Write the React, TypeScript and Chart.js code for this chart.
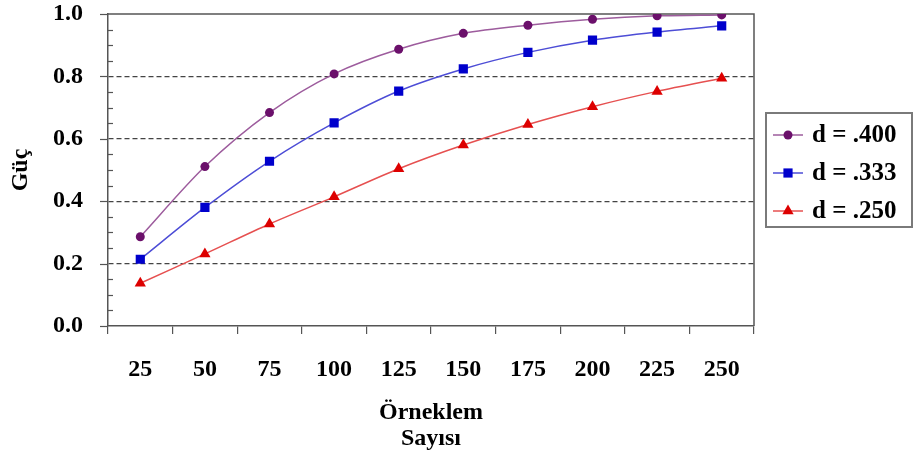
import React, { useEffect, useRef } from 'react';
import { Chart, registerables } from 'chart.js';

Chart.register(...registerables);

const categories = ['25', '50', '75', '100', '125', '150', '175', '200', '225', '250'];
const seriesLabels = ['d = .400', 'd = .333', 'd = .250'];
const d400 = [0.286, 0.511, 0.684, 0.808, 0.887, 0.938, 0.964, 0.983, 0.994, 0.997];
const d333 = [0.214, 0.380, 0.528, 0.651, 0.753, 0.824, 0.877, 0.916, 0.942, 0.962];
const d250 = [0.137, 0.231, 0.327, 0.414, 0.504, 0.580, 0.646, 0.703, 0.752, 0.794];
const yMin = 0;
const yMax = 1;
const yStep = 0.2;
const yMinorStep = 0.05;
const yTitle = 'Güç';
const xTitle = ['Örneklem', 'Sayısı'];

const FONT = '"Liberation Serif", "Times New Roman", serif';
const AXIS_COLOR = '#555555';

function drawMarker(ctx: CanvasRenderingContext2D, style: string, x: number, y: number, r: number, color: string) {
  ctx.save();
  ctx.fillStyle = color;
  ctx.strokeStyle = color;
  ctx.beginPath();
  if (style === 'rect') {
    const s = r * Math.SQRT1_2;
    ctx.rect(x - s, y - s, 2 * s, 2 * s);
  } else if (style === 'triangle') {
    ctx.moveTo(x, y - r);
    ctx.lineTo(x + r * 0.866, y + r * 0.5);
    ctx.lineTo(x - r * 0.866, y + r * 0.5);
    ctx.closePath();
  } else {
    ctx.arc(x, y, r, 0, Math.PI * 2);
  }
  ctx.fill();
  ctx.restore();
}

const framePlugin = {
  id: 'frame',
  beforeDatasetsDraw(chart: any) {
    const { ctx, chartArea } = chart;
    const y = chart.scales.y;
    ctx.save();
    ctx.strokeStyle = AXIS_COLOR;
    ctx.lineWidth = 1.5;
    ctx.beginPath();
    ctx.moveTo(chartArea.left, chartArea.top);
    ctx.lineTo(chartArea.right, chartArea.top);
    ctx.lineTo(chartArea.right, chartArea.bottom);
    ctx.stroke();
    // y ticks (major outside, minor inside)
    ctx.lineWidth = 1.2;
    const n = Math.round((yMax - yMin) / yMinorStep);
    const perMajor = Math.round(yStep / yMinorStep);
    for (let i = 0; i <= n; i++) {
      const v = yMin + i * yMinorStep;
      const py = Math.round(y.getPixelForValue(v)) + 0.5;
      ctx.beginPath();
      if (i % perMajor === 0) {
        ctx.moveTo(chartArea.left - 8, py);
        ctx.lineTo(chartArea.left, py);
      } else {
        ctx.moveTo(chartArea.left, py);
        ctx.lineTo(chartArea.left + 5, py);
      }
      ctx.stroke();
    }
    ctx.restore();
  },
};

const legendPlugin = {
  id: 'boxLegend',
  afterDraw(chart: any) {
    const { ctx } = chart;
    const bx = 766, by = 113, bw = 146, bh = 114;
    ctx.save();
    ctx.strokeStyle = '#7a7a7a';
    ctx.lineWidth = 2;
    ctx.strokeRect(bx, by, bw, bh);
    chart.data.datasets.forEach((ds: any, i: number) => {
      const cy = by + 22 + i * 38;
      ctx.strokeStyle = ds.borderColor;
      ctx.lineWidth = ds.borderWidth;
      ctx.beginPath();
      ctx.moveTo(bx + 7, cy);
      ctx.lineTo(bx + 37, cy);
      ctx.stroke();
      drawMarker(ctx, ds.pointStyle, bx + 22, cy, ds.pointRadius, ds.pointBackgroundColor);
      ctx.fillStyle = '#000';
      ctx.font = `bold 25px ${FONT}`;
      ctx.textBaseline = 'middle';
      ctx.textAlign = 'left';
      ctx.fillText(ds.label, bx + 46, cy + 1);
    });
    ctx.restore();
  },
};

export default function App() {
  const ref = useRef<HTMLCanvasElement | null>(null);
  useEffect(() => {
    document.body.style.margin = '0';
    const canvas = ref.current;
    if (!canvas) return;
    const chart = new Chart(canvas, {
      type: 'line',
      data: {
        labels: categories,
        datasets: [
          {
            label: seriesLabels[0],
            data: d400,
            borderColor: '#9d5c9d',
            borderWidth: 1.5,
            pointStyle: 'circle',
            pointRadius: 4.5,
            pointBackgroundColor: '#6b106b',
            pointBorderColor: '#6b106b',
            pointBorderWidth: 0,
            tension: 0.3,
          },
          {
            label: seriesLabels[1],
            data: d333,
            borderColor: '#4d4dd6',
            borderWidth: 1.5,
            pointStyle: 'rect',
            pointRadius: 6.5,
            pointBackgroundColor: '#0000cc',
            pointBorderColor: '#0000cc',
            pointBorderWidth: 0,
            tension: 0.3,
          },
          {
            label: seriesLabels[2],
            data: d250,
            borderColor: '#e65050',
            borderWidth: 1.5,
            pointStyle: 'triangle',
            pointRadius: 6.5,
            pointBackgroundColor: '#dd0000',
            pointBorderColor: '#dd0000',
            pointBorderWidth: 0,
            tension: 0.3,
          },
        ],
      },
      options: {
        animation: false,
        responsive: true,
        maintainAspectRatio: false,
        layout: { padding: { left: 2, right: 163, top: 14, bottom: 0 } },
        plugins: { legend: { display: false }, tooltip: { enabled: false } },
        scales: {
          x: {
            type: 'category',
            offset: true,
            grid: {
              offset: true,
              drawOnChartArea: false,
              drawTicks: true,
              tickLength: 8,
              color: AXIS_COLOR,
              lineWidth: 1.2,
            },
            border: { display: true, color: AXIS_COLOR, width: 1.5 },
            ticks: {
              color: '#000',
              padding: 24,
              maxRotation: 0,
              autoSkip: false,
              font: { family: FONT, size: 24, weight: 'bold', lineHeight: 1.0 },
            },
            title: {
              display: true,
              text: xTitle,
              color: '#000',
              font: { family: FONT, size: 24, weight: 'bold', lineHeight: 1.08 },
              padding: { top: 0, bottom: 9 },
            },
            afterFit: (scale: any) => {
              scale.height = 135;
              scale.paddingLeft = 0;
              scale.paddingRight = 0;
            },
          },
          y: {
            min: yMin,
            max: yMax,
            ticks: {
              stepSize: yStep,
              color: '#000',
              padding: 25,
              callback: (v: any) => Number(v).toFixed(1),
              font: { family: FONT, size: 24, weight: 'bold', lineHeight: 1.0 },
            },
            grid: {
              drawTicks: false,
              lineWidth: 1.2,
              color: (c: any) => {
                const v = c.tick ? c.tick.value : 0;
                return v > yMin + 1e-6 && v < yMax - 1e-6 ? '#444444' : 'rgba(0,0,0,0)';
              },
            },
            border: { display: true, color: AXIS_COLOR, width: 1.5, dash: [5, 3] },
            title: {
              display: true,
              text: yTitle,
              color: '#000',
              font: { family: FONT, size: 24, weight: 'bold', lineHeight: 1.2 },
              padding: { top: 4, bottom: 4 },
            },
            afterFit: (scale: any) => {
              scale.width = 106;
              scale.paddingTop = 0;
              scale.paddingBottom = 0;
            },
          },
        },
      },
      plugins: [framePlugin, legendPlugin],
    } as any);
    return () => chart.destroy();
  }, []);

  return (
    <div style={{ position: 'fixed', left: 0, top: 0, width: 917, height: 461, background: '#fff' }}>
      <canvas ref={ref} />
    </div>
  );
}
